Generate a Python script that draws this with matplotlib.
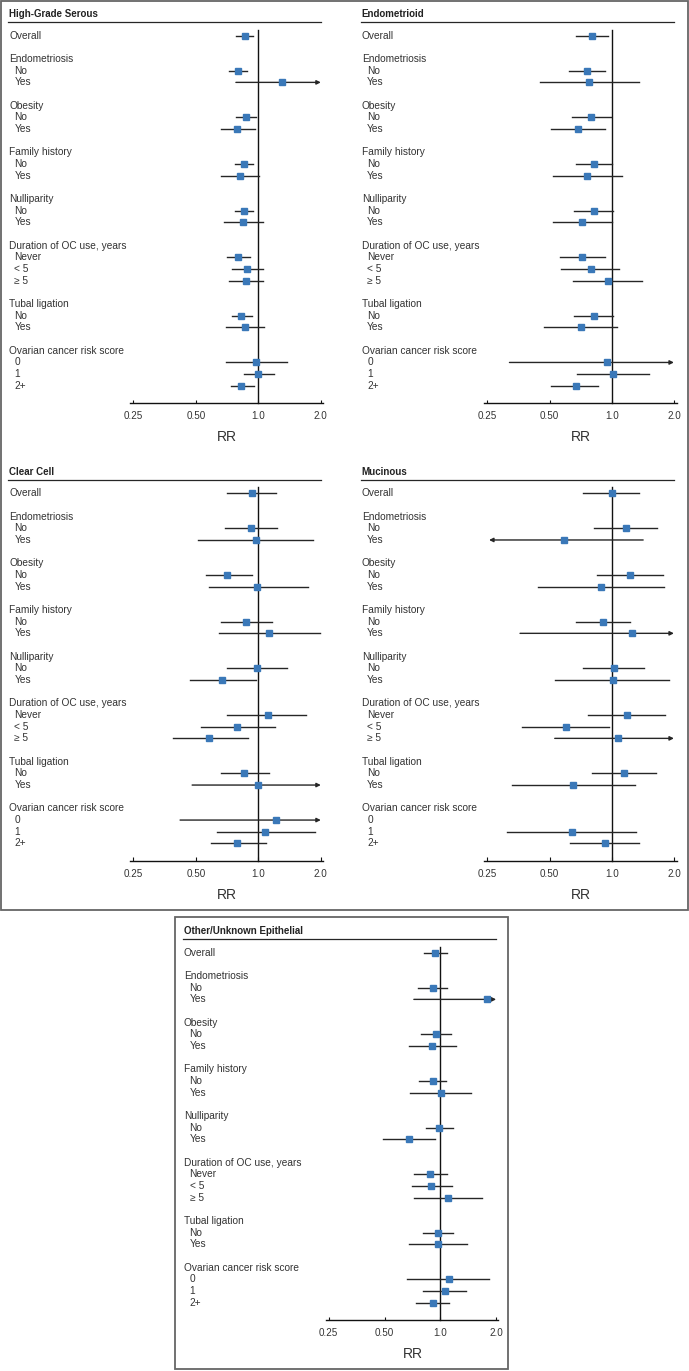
"""Forest plots of risk ratios by ovarian cancer histotype."""

import matplotlib

matplotlib.use("Agg")
import matplotlib.pyplot as plt
import numpy as np
from matplotlib.patches import Rectangle
from matplotlib.transforms import blended_transform_factory

W, H = 689, 1371
ROW = 11.67
INK = "#333333"
LINE = "#262626"
BLUE = "#3a78b8"
FRAME = "#666666"
FONT = ["Liberation Sans", "DejaVu Sans"]
NARROW = ["Liberation Sans Narrow", "Liberation Sans", "DejaVu Sans"]

GROUPS = ["Endometriosis", "Obesity", "Family history", "Nulliparity",
          "Duration of OC use, years", "Tubal ligation", "Ovarian cancer risk score"]
LEVELS = [["No", "Yes"], ["No", "Yes"], ["No", "Yes"], ["No", "Yes"],
          ["Never", "< 5", "\u2265 5"], ["No", "Yes"], ["0", "1", "2+"]]
TICKS = [0.25, 0.5, 1.0, 2.0]
TICK_LABELS = ["0.25", "0.50", "1.0", "2.0"]

# order: Overall, then every level of every group
nan = np.nan
HGS_RR = [0.86, 0.80, 1.30, 0.87, 0.79, 0.85, 0.82, 0.85, 0.84, 0.80, 0.88, 0.87, 0.83, 0.86, 0.97, 1.00, 0.83]
HGS_LO = [0.78, 0.72, 0.78, 0.78, 0.66, 0.77, 0.66, 0.77, 0.68, 0.71, 0.75, 0.72, 0.75, 0.70, 0.70, 0.85, 0.74]
HGS_HI = [0.94, 0.88, 2.60, 0.98, 0.96, 0.94, 1.01, 0.94, 1.05, 0.91, 1.05, 1.05, 0.93, 1.07, 1.37, 1.19, 0.95]

ENDO_RR = [0.80, 0.76, 0.78, 0.79, 0.69, 0.82, 0.76, 0.82, 0.72, 0.72, 0.79, 0.96, 0.82, 0.71, 0.95, 1.02, 0.67]
ENDO_LO = [0.67, 0.62, 0.45, 0.64, 0.51, 0.67, 0.52, 0.66, 0.52, 0.56, 0.57, 0.65, 0.66, 0.47, 0.32, 0.68, 0.51]
ENDO_HI = [0.96, 0.93, 1.36, 0.99, 0.93, 1.00, 1.12, 1.01, 1.00, 0.93, 1.09, 1.40, 1.01, 1.06, 2.80, 1.51, 0.86]

CC_RR = [0.93, 0.92, 0.97, 0.71, 0.99, 0.87, 1.12, 0.99, 0.67, 1.11, 0.79, 0.58, 0.85, 1.00, 1.22, 1.08, 0.79]
CC_LO = [0.71, 0.69, 0.51, 0.56, 0.58, 0.66, 0.65, 0.71, 0.47, 0.71, 0.53, 0.39, 0.66, 0.48, 0.42, 0.63, 0.59]
CC_HI = [1.22, 1.23, 1.84, 0.93, 1.74, 1.17, 1.98, 1.37, 0.98, 1.70, 1.20, 0.89, 1.12, 2.50, 3.20, 1.87, 1.09]

MUC_RR = [1.00, 1.17, 0.59, 1.23, 0.89, 0.91, 1.25, 1.03, 1.01, 1.18, 0.60, 1.07, 1.15, 0.65, nan, 0.64, 0.93]
MUC_LO = [0.73, 0.82, 0.18, 0.85, 0.44, 0.67, 0.36, 0.73, 0.53, 0.77, 0.37, 0.53, 0.80, 0.33, nan, 0.31, 0.63]
MUC_HI = [1.35, 1.66, 1.42, 1.77, 1.80, 1.22, 2.90, 1.44, 1.89, 1.81, 0.97, 2.20, 1.64, 1.29, nan, 1.31, 1.35]

OTH_RR = [0.94, 0.91, 1.79, 0.95, 0.90, 0.91, 1.01, 0.99, 0.68, 0.88, 0.89, 1.10, 0.97, 0.97, 1.11, 1.06, 0.91]
OTH_LO = [0.82, 0.76, 0.72, 0.79, 0.68, 0.77, 0.69, 0.84, 0.49, 0.72, 0.70, 0.72, 0.81, 0.68, 0.66, 0.81, 0.74]
OTH_HI = [1.09, 1.09, 2.70, 1.14, 1.22, 1.08, 1.46, 1.17, 0.94, 1.09, 1.15, 1.67, 1.17, 1.39, 1.83, 1.38, 1.11]


def panel(fig, title, rr, lo, hi, x_text, x_one, k, y0):
    # pixel geometry -> axes in log2 RR (x) and row units (y)
    left, right = x_text - 8, x_one + 1.25 * k
    top, bottom = y0 - 32, y0 + 418
    ax = fig.add_axes([left / W, 1 - bottom / H, (right - left) / W, (bottom - top) / H])
    ax.set_xscale("log", base=2)
    ax.set_xlim(2 ** ((left - x_one) / k), 2 ** ((right - x_one) / k))
    ax.set_ylim((bottom - y0) / ROW, (top - y0) / ROW)
    ax.axis("off")
    blend = blended_transform_factory(ax.transAxes, ax.transData)
    fx = lambda px: (px - left) / (right - left)

    ax.text(fx(x_text), -1.86, title, transform=blend, fontsize=7, fontweight="bold",
            color="#222222", va="center", family=FONT)
    ax.plot([fx(x_text - 1), fx(x_one + k)], [-1.15, -1.15], transform=blend, color=LINE, lw=0.9)

    rows = [0]
    ax.text(fx(x_text), 0, "Overall", transform=blend, fontsize=7.3, color=INK, va="center", family=FONT)
    r = 2
    for group, levels in zip(GROUPS, LEVELS):
        ax.text(fx(x_text), r, group, transform=blend, fontsize=7.3, color=INK, va="center", family=FONT)
        for i, level in enumerate(levels):
            rows.append(r + 1 + i)
            ax.text(fx(x_text + 5.5), r + 1 + i, level, transform=blend, fontsize=7.3,
                    color=INK, va="center", family=FONT)
        r += len(levels) + 2

    axis_y = 31.47
    ax.plot([1, 1], [-0.5, axis_y], color="#111111", lw=1.0, zorder=2)
    ax.plot([0.241, 2.06], [axis_y, axis_y], color="#111111", lw=1.0)
    ax.vlines(TICKS, axis_y - 0.28, axis_y, color="#111111", lw=0.8)
    for t, lab in zip(TICKS, TICK_LABELS):
        ax.text(t, 32.6, lab, ha="center", va="center", fontsize=7.1, color=INK, family=FONT)
    ax.text(2 ** -0.5, 34.4, "RR", ha="center", va="center", fontsize=10, color=INK, family=NARROW)

    arrow = dict(arrowstyle="-|>", color=LINE, lw=1.0, mutation_scale=6, shrinkA=0, shrinkB=0)
    for row, v, a, b in zip(rows, rr, lo, hi):
        if np.isnan(v):
            continue
        if b > 2.0:
            ax.annotate("", xy=(2.0, row), xytext=(max(a, 0.255), row), arrowprops=arrow)
        elif a < 0.255:
            ax.annotate("", xy=(0.255, row), xytext=(min(b, 2.0), row), arrowprops=arrow)
        else:
            ax.plot([a, b], [row, row], color=LINE, lw=1.0, zorder=3)
        ax.plot([v], [row], marker="s", markersize=3.8, color=BLUE, mec=BLUE, zorder=4)
    return ax


def frame(fig, x0, y0, x1, y1):
    fig.add_artist(Rectangle((x0 / W, 1 - y1 / H), (x1 - x0) / W, (y1 - y0) / H,
                             transform=fig.transFigure, fill=False, ec=FRAME, lw=1.3))


def main():
    fig = plt.figure(figsize=(W / 100, H / 100), dpi=100, facecolor="white")
    panel(fig, "High-Grade Serous", HGS_RR, HGS_LO, HGS_HI, 9, 258.3, 62.5, 35.7)
    panel(fig, "Endometrioid", ENDO_RR, ENDO_LO, ENDO_HI, 361.7, 611.7, 62.2, 35.7)
    panel(fig, "Clear Cell", CC_RR, CC_LO, CC_HI, 9, 258.3, 62.5, 493.3)
    panel(fig, "Mucinous", MUC_RR, MUC_LO, MUC_HI, 361.7, 611.7, 62.2, 493.3)
    panel(fig, "Other/Unknown Epithelial", OTH_RR, OTH_LO, OTH_HI, 184, 440.3, 55.8, 952.7)
    frame(fig, 1, 1, 688, 910)
    frame(fig, 175, 917, 508, 1369)
    fig.savefig("out.png", dpi=100, facecolor="white")


if __name__ == "__main__":
    main()
